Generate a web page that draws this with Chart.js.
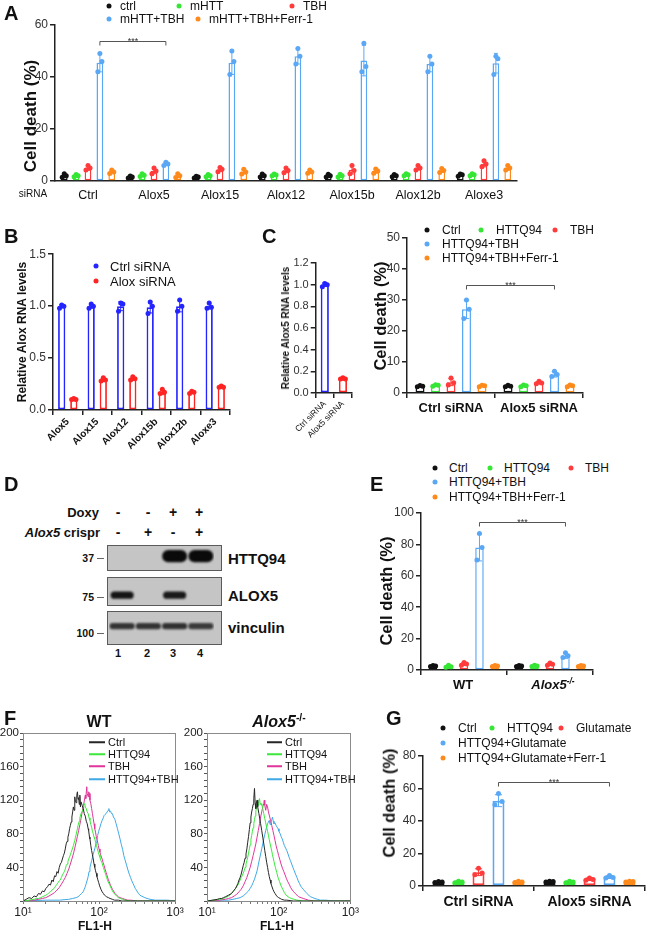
<!DOCTYPE html>
<html><head><meta charset="utf-8">
<script src="https://cdn.jsdelivr.net/npm/chart.js@4.4.1/dist/chart.umd.min.js"></script>
<style>
html,body{margin:0;padding:0;background:#fff}
body{width:650px;height:932px;position:relative;overflow:hidden;font-family:"Liberation Sans",Arial,Helvetica,sans-serif;color:#111}
canvas{position:absolute}
.t{position:absolute;white-space:nowrap;line-height:1}
.dot{position:absolute;width:5px;height:5px;border-radius:50%;transform:translate(-50%,-50%)}
.ln{position:absolute;height:1.5px;transform:translateY(-50%)}
.blot{position:absolute;background:#c5c5c5;border:1px solid #5a5a5a;box-sizing:border-box}
.tick{position:absolute;height:1px;background:#666}
sup{font-size:65%;vertical-align:0.55em;line-height:0}
</style></head><body>
<canvas id="cA"></canvas>
<canvas id="cB"></canvas>
<canvas id="cC1"></canvas>
<canvas id="cC2"></canvas>
<canvas id="cE"></canvas>
<canvas id="cG"></canvas>
<canvas id="cF1"></canvas>
<canvas id="cF2"></canvas>
<div class="blot" style="left:107px;top:545px;width:115px;height:26px"></div>
<div class="blot" style="left:107px;top:577px;width:115px;height:29px"></div>
<div class="blot" style="left:107px;top:611px;width:115px;height:34px"></div>
<canvas id="cD1"></canvas>
<canvas id="cD2"></canvas>
<canvas id="cD3"></canvas>
<script>
// ================= DATA =================
// Panel A
const A_GROUPS = ['Ctrl','Alox5','Alox15','Alox12','Alox15b','Alox12b','Aloxe3'];
const A_SERIES = ['ctrl','mHTT','TBH','mHTT+TBH','mHTT+TBH+Ferr-1'];
const A_CTRL = [2.0,1.5,1.5,2.1,2.0,2.0,2.3];
const A_CTRL_REPS = [[2.8,2.0,1.4],[1.9,1.5,1.2],[1.8,1.5,1.2],[2.7,2.0,1.5],[2.6,2.0,1.5],[2.5,2.0,1.6],[2.7,2.4,1.8]];
const A_MHTT = [2.0,2.2,2.0,2.3,2.0,2.4,2.4];
const A_MHTT_REPS = [[2.5,2.0,1.6],[2.8,2.2,1.7],[2.5,2.0,1.6],[2.7,2.3,2.0],[2.6,2.0,1.5],[2.8,2.4,2.0],[2.8,2.4,2.0]];
const A_TBH = [5.0,3.9,4.4,4.1,4.3,5.1,6.6];
const A_TBH_REPS = [[6.0,5.0,4.2],[5.0,3.8,2.8],[5.2,4.5,3.6],[5.0,4.0,3.2],[6.0,4.0,2.8],[6.0,5.0,4.2],[7.8,6.5,5.5]];
const A_MHTT_TBH = [45.5,6.6,45.5,48.0,46.3,45.0,45.3];
const A_MHTT_TBH_REPS = [[49,46,42],[7.2,6.5,6.0],[50,46,41],[51,48,45],[53,44,42],[48,45,42],[48,47,41]];
const A_FERR = [3.5,2.0,3.6,3.6,3.8,4.0,5.0];
const A_FERR_REPS = [[4.2,3.5,2.9],[2.8,2.0,1.3],[4.5,3.5,2.7],[4.2,3.5,3.0],[4.6,3.8,3.0],[4.8,4.0,3.3],[6.0,5.0,4.2]];

// Panel B
const B_GENES = ['Alox5','Alox15','Alox12','Alox15b','Alox12b','Aloxe3'];
const B_SERIES = ['Ctrl siRNA','Alox siRNA'];
const B_CTRL = [1.0,1.0,1.0,0.99,1.0,1.0];
const B_CTRL_REPS = [[1.01,1.0,0.98],[1.02,1.0,0.98],[1.03,1.02,0.95],[1.04,1.0,0.93],[1.06,1.0,0.95],[1.03,0.99,0.98]];
const B_ALOX = [0.10,0.29,0.30,0.17,0.17,0.22];
const B_ALOX_REPS = [[0.11,0.10,0.10],[0.31,0.29,0.28],[0.32,0.30,0.29],[0.20,0.17,0.16],[0.18,0.17,0.16],[0.23,0.22,0.22]];

// Panel C (left)
const C1_LABELS = ['Ctrl siRNA','Alox5 siRNA'];
const C1_VALUES = [1.0,0.13];
const C1_REPS = [[1.01,1.0,0.98],[0.14,0.13,0.13]];

// Panel C (right)
const C2_GROUPS = ['Ctrl siRNA','Alox5 siRNA'];
const C2_SERIES = ['Ctrl','HTTQ94','TBH','HTTQ94+TBH','HTTQ94+TBH+Ferr-1'];
const C2_CTRL = [2.2,2.2];       const C2_CTRL_REPS = [[2.4,2.2,2.0],[2.5,2.2,2.0]];
const C2_HTT = [2.5,2.3];        const C2_HTT_REPS = [[2.7,2.5,2.2],[2.6,2.3,2.0]];
const C2_TBH = [3.5,3.3];        const C2_TBH_REPS = [[4.8,3.3,2.6],[3.8,3.2,3.0]];
const C2_HTT_TBH = [27,6.0];     const C2_HTT_TBH_REPS = [[30,27,24],[7.0,6.0,5.3]];
const C2_FERR = [2.3,2.3];       const C2_FERR_REPS = [[2.5,2.3,2.0],[2.6,2.3,2.0]];

// Panel D (western blot)
const D_DOXY = ['-','-','+','+'];
const D_CRISPR = ['-','+','-','+'];
const D_LANES = ['1','2','3','4'];
const D_HTTQ94 = [0,0,1.0,1.0];
const D_ALOX5 = [0.95,0,0.92,0];
const D_VINCULIN = [0.78,0.78,0.8,0.74];
const D_PROTEINS = ['HTTQ94','ALOX5','vinculin'];
const D_MW = ['37','75','100'];

// Panel E
const E_GROUPS = ['WT','Alox5<sup>-/-</sup>'];
const E_SERIES = ['Ctrl','HTTQ94','TBH','HTTQ94+TBH','HTTQ94+TBH+Ferr-1'];
const E_CTRL = [2.5,2.5];      const E_CTRL_REPS = [[2.8,2.5,2.2],[2.8,2.5,2.2]];
const E_HTT = [2.3,2.6];       const E_HTT_REPS = [[3.0,2.0,1.8],[3.0,2.6,2.2]];
const E_TBH = [3.8,3.6];       const E_TBH_REPS = [[4.8,3.8,3.0],[4.5,3.6,3.0]];
const E_HTT_TBH = [78,9.0];    const E_HTT_TBH_REPS = [[87,78,70],[11,9,8]];
const E_FERR = [2.5,2.5];      const E_FERR_REPS = [[2.8,2.5,2.2],[2.8,2.5,2.2]];

// Panel F (flow histograms: [FL1-H, count])
const F_SERIES = ['Ctrl','HTTQ94','TBH','HTTQ94+TBH'];
const F_WT_CTRL = [[10,0],[11,2],[12,4],[13,3],[14,6],[15,5],[16,9],[17,8],[18,12],[19,11],[20,15],[21,17],[22,20],[23,19],[24,25],[25,23],[26,30],[27,29],[28,35],[29,33],[30,40],[31,44],[32,46],[33,50],[34,54],[35,57],[36,62],[37,68],[38,71],[39,76],[40,80],[41,86],[42,90],[43,94],[44,100],[45,106],[46,112],[47,108],[48,124],[49,118],[50,117],[51,126],[52,130],[53,121],[54,123],[55,115],[56,126],[57,112],[58,118],[60,114],[62,110],[64,104],[66,101],[68,95],[70,92],[72,86],[73,84],[75,76],[76,74],[78,66],[80,60],[82,55],[84,50],[86,44],[88,40],[90,36],[92,33],[94,29],[96,26],[99,22],[102,18],[106,14],[110,11],[114,9],[118,7],[122,6],[126,5],[133,4],[140,3],[150,2],[160,1],[180,1],[200,0],[1000,0]];
const F_WT_HTT = [[10,0],[12,1],[14,2],[15,3],[16,3],[17,4],[18,5],[19,6],[20,7],[21,8],[22,10],[23,11],[24,13],[25,14],[26,16],[27,18],[28,20],[29,22],[30,24],[31,25],[32,28],[33,31],[34,33],[35,35],[36,38],[37,42],[38,44],[39,47],[40,50],[42,55],[43,58],[45,63],[46,66],[48,72],[49,76],[50,79],[52,86],[53,90],[55,95],[56,99],[58,104],[60,106],[62,110],[63,114],[65,116],[66,112],[68,110],[70,106],[72,104],[74,99],[76,96],[78,91],[80,88],[82,83],[84,80],[86,76],[88,74],[90,70],[93,66],[95,62],[98,58],[100,55],[103,52],[106,48],[110,45],[114,40],[118,36],[122,32],[126,28],[130,24],[135,21],[140,18],[145,15],[150,12],[155,10],[162,8],[170,6],[180,4],[190,3],[205,2],[220,1],[260,0],[1000,0]];
const F_WT_TBH = [[10,0],[14,1],[16,2],[18,3],[20,4],[22,6],[24,8],[26,10],[28,13],[30,16],[32,20],[34,24],[36,28],[38,33],[40,38],[42,44],[44,50],[46,56],[48,63],[50,70],[52,77],[54,84],[56,91],[58,98],[60,106],[62,112],[64,119],[66,126],[67,122],[69,136],[70,128],[72,124],[73,130],[75,128],[76,120],[78,116],[80,110],[82,104],[84,98],[86,92],[88,86],[90,82],[92,77],[95,72],[98,66],[100,62],[103,58],[106,54],[110,50],[113,46],[117,42],[120,38],[124,34],[128,30],[132,26],[136,23],[140,20],[145,17],[150,14],[155,12],[162,9],[170,7],[180,5],[190,4],[205,3],[220,2],[240,1],[260,1],[320,0],[1000,0]];
const F_WT_HTT_TBH = [[10,0],[20,1],[30,1],[40,2],[45,3],[50,4],[53,5],[56,7],[59,9],[62,11],[64,14],[66,17],[68,21],[70,25],[72,29],[74,35],[76,40],[78,44],[80,48],[82,52],[84,56],[86,59],[89,64],[92,70],[94,73],[96,78],[99,83],[103,88],[106,92],[110,96],[114,99],[117,102],[120,103],[124,104],[128,106],[132,108],[135,110],[138,106],[142,107],[146,104],[150,104],[155,100],[162,97],[168,92],[175,86],[182,80],[189,74],[197,67],[205,61],[212,54],[220,49],[230,43],[240,37],[250,32],[260,28],[270,24],[280,21],[290,18],[300,15],[315,12],[330,9],[345,7],[360,6],[380,5],[400,4],[430,3],[470,2],[550,1],[650,1],[800,1],[1000,0]];
const F_KO_CTRL = [[10,0],[12,1],[14,2],[15,3],[16,3],[17,4],[18,5],[19,6],[20,7],[21,8],[22,9],[23,11],[24,13],[25,15],[26,18],[27,21],[28,25],[29,28],[30,32],[31,37],[32,42],[33,46],[34,51],[35,56],[36,62],[37,70],[38,77],[39,85],[40,93],[41,100],[42,106],[43,110],[44,115],[45,122],[46,134],[47,116],[48,110],[49,118],[50,120],[51,112],[53,104],[54,100],[56,92],[58,84],[60,76],[62,68],[64,60],[66,53],[68,46],[70,40],[72,34],[74,29],[76,25],[78,21],[80,18],[83,14],[86,11],[89,9],[92,7],[96,5],[100,4],[105,3],[110,2],[120,1],[130,1],[160,0],[1000,0]];
const F_KO_HTT = [[10,0],[12,1],[15,2],[17,3],[18,4],[19,5],[20,6],[21,7],[22,9],[23,11],[24,13],[25,15],[26,17],[27,19],[28,22],[29,25],[30,28],[31,30],[32,33],[33,36],[34,40],[35,44],[36,48],[37,52],[38,57],[39,62],[40,67],[41,73],[42,78],[43,83],[44,87],[45,92],[46,97],[47,101],[48,106],[49,112],[50,115],[51,118],[52,114],[53,120],[54,122],[55,117],[57,114],[58,116],[60,110],[62,104],[64,98],[66,93],[68,88],[70,83],[72,78],[74,73],[76,68],[79,62],[82,55],[86,47],[90,40],[94,34],[98,28],[103,23],[108,18],[114,14],[120,10],[127,7],[135,5],[142,4],[150,3],[165,2],[180,1],[220,0],[1000,0]];
const F_KO_TBH = [[10,0],[15,1],[18,2],[20,3],[22,4],[24,6],[26,8],[28,11],[30,14],[32,18],[34,23],[36,28],[38,34],[40,40],[42,47],[44,54],[46,61],[48,68],[50,76],[52,84],[54,92],[56,100],[58,106],[60,112],[62,116],[63,120],[64,114],[66,108],[68,115],[70,112],[72,106],[75,100],[77,96],[80,90],[83,84],[86,78],[89,72],[92,66],[96,60],[100,54],[104,49],[108,44],[113,39],[118,35],[123,31],[128,27],[134,23],[140,20],[147,16],[155,13],[162,11],[170,9],[180,7],[190,5],[205,4],[220,3],[240,2],[260,1],[320,0],[1000,0]];
const F_KO_HTT_TBH = [[10,0],[16,1],[20,1],[23,2],[26,3],[29,4],[32,6],[35,9],[38,12],[40,15],[42,18],[44,22],[46,26],[48,31],[50,36],[52,43],[54,50],[56,56],[58,62],[60,68],[62,74],[64,79],[66,84],[68,88],[70,92],[72,94],[74,96],[76,91],[78,94],[80,97],[82,100],[84,95],[86,92],[89,93],[92,90],[95,88],[98,86],[101,83],[105,80],[108,77],[112,74],[116,70],[120,66],[125,63],[130,60],[135,56],[140,52],[146,48],[152,44],[158,40],[165,36],[172,32],[180,28],[187,24],[195,21],[202,18],[210,16],[220,14],[230,12],[242,10],[255,8],[268,6],[280,5],[300,4],[320,3],[350,2],[380,1],[460,1],[600,0],[1000,0]];

// Panel G
const G_GROUPS = ['Ctrl siRNA','Alox5 siRNA'];
const G_SERIES = ['Ctrl','HTTQ94','Glutamate','HTTQ94+Glutamate','HTTQ94+Glutamate+Ferr-1'];
const G_CTRL = [2.5,2.8];      const G_CTRL_REPS = [[2.8,2.5,2.2],[3.0,2.8,2.5]];
const G_HTT = [2.5,2.5];       const G_HTT_REPS = [[3.0,2.5,2.0],[3.0,2.5,2.0]];
const G_GLU = [8.5,4.2];       const G_GLU_REPS = [[11,8,7],[5.0,4.0,3.5]];
const G_HTT_GLU = [52.5,5.5];  const G_HTT_GLU_REPS = [[57,52,50],[6.5,5.2,5.0]];
const G_FERR = [2.6,2.8];      const G_FERR_REPS = [[3.0,2.5,2.2],[3.0,2.8,2.5]];

// ================= STYLE =================
const FONT = '"Liberation Sans", Arial, Helvetica, sans-serif';
Chart.defaults.font.family = FONT;
const AX = '#222';
const C5 = ['#111111','#35e635','#ff3b3b','#5aa8f5','#ff8a1c'];
const BLUE = '#2424ff', RED = '#ff2424';
const FCOL = ['#262626','#3be83b','#e0359a','#3fa9e6'];

// ================= HELPERS =================
function txt(s, x, y, o = {}) {
  const d = document.createElement('div');
  d.className = 't';
  d.innerHTML = s;
  const a = o.a || 'l';
  const tx = a === 'l' ? '0' : a === 'c' ? '-50%' : '-100%';
  d.style.left = x + 'px'; d.style.top = y + 'px';
  d.style.fontSize = (o.size || 12) + 'px';
  if (o.bold) d.style.fontWeight = 'bold';
  if (o.italic) d.style.fontStyle = 'italic';
  if (o.color) d.style.color = o.color;
  d.style.transform = o.rot ? 'translate(-50%,-50%) rotate(-90deg)' : `translate(${tx},-50%)`;
  document.body.appendChild(d);
  return d;
}
function dot(x, y, c, s) {
  const d = document.createElement('div');
  d.className = 'dot'; d.style.left = x + 'px'; d.style.top = y + 'px'; d.style.background = c;
  if (s) { d.style.width = s + 'px'; d.style.height = s + 'px'; }
  document.body.appendChild(d);
}
function lineKey(x, y, w, c) {
  const d = document.createElement('div');
  d.className = 'ln'; d.style.left = x + 'px'; d.style.top = y + 'px'; d.style.width = w + 'px'; d.style.background = c;
  document.body.appendChild(d);
}
function legend(names, colors, slots, gap, size) {
  names.forEach((n, i) => { const [x, y] = slots[i]; dot(x, y, colors[i]); txt(n, x + gap, y, { size }); });
}
function place(id, b) {
  const cv = document.getElementById(id);
  cv.width = b.w; cv.height = b.h; cv.style.left = b.x + 'px'; cv.style.top = b.y + 'px';
  return cv;
}

const errDots = {
  id: 'errDots',
  afterDatasetsDraw(chart, args, o) {
    const ctx = chart.ctx, ys = chart.scales.y;
    chart.data.datasets.forEach((ds, i) => {
      if (!ds.reps) return;
      chart.getDatasetMeta(i).data.forEach((bar, j) => {
        const reps = ds.reps[j]; if (!reps) return;
        const col = Array.isArray(ds.borderColor) ? ds.borderColor[j] : ds.borderColor;
        const m = ds.data[j];
        const sd = Math.sqrt(reps.reduce((a, v) => a + (v - m) * (v - m), 0) / (reps.length - 1));
        const x = bar.x, yt = ys.getPixelForValue(m + sd), yb = ys.getPixelForValue(Math.max(0, m - sd));
        const cw = bar.width * 0.3;
        ctx.save();
        ctx.strokeStyle = col; ctx.lineWidth = 1;
        ctx.beginPath();
        ctx.moveTo(x, yt); ctx.lineTo(x, yb);
        ctx.moveTo(x - cw, yt); ctx.lineTo(x + cw, yt);
        ctx.moveTo(x - cw, yb); ctx.lineTo(x + cw, yb);
        ctx.stroke();
        ctx.fillStyle = col;
        const jit = [0, 0.3, -0.3];
        reps.forEach((v, k) => {
          ctx.beginPath();
          ctx.arc(x + jit[k % 3] * bar.width, ys.getPixelForValue(v), o.r || 2.5, 0, Math.PI * 2);
          ctx.fill();
        });
        ctx.restore();
      });
    });
  }
};
const bracket = {
  id: 'bracket',
  afterDatasetsDraw(chart, args, o) {
    if (!o || o.value === undefined) return;
    const a = chart.getDatasetMeta(o.from[0]).data[o.from[1]];
    const b = chart.getDatasetMeta(o.to[0]).data[o.to[1]];
    const y = Math.round(chart.scales.y.getPixelForValue(o.value)) + 0.5;
    const ctx = chart.ctx;
    ctx.save();
    ctx.strokeStyle = '#555'; ctx.lineWidth = 1;
    ctx.beginPath(); ctx.moveTo(a.x, y + 4); ctx.lineTo(a.x, y); ctx.lineTo(b.x, y); ctx.lineTo(b.x, y + 4); ctx.stroke();
    ctx.fillStyle = '#333'; ctx.font = '9px ' + FONT; ctx.textAlign = 'center'; ctx.textBaseline = 'alphabetic';
    ctx.fillText('***', (a.x + b.x) / 2, y + 2);
    ctx.restore();
  }
};

function barChart(id, box, area, cfg) {
  const cv = place(id, box);
  const yW = area.l - box.x, xH = box.y + box.h - area.b;
  return new Chart(cv, {
    type: 'bar',
    data: {
      labels: cfg.labels,
      datasets: cfg.datasets.map(d => ({
        label: d.label, data: d.data, reps: d.reps,
        backgroundColor: '#fff', borderColor: d.color, borderWidth: cfg.bw || 1.5,
        borderSkipped: false, barPercentage: cfg.barPct, categoryPercentage: cfg.catPct
      }))
    },
    options: {
      responsive: false, animation: false, devicePixelRatio: 1,
      layout: { padding: { left: 0, top: area.t - box.y, right: box.x + box.w - area.r, bottom: 0 } },
      plugins: { legend: { display: false }, tooltip: { enabled: false }, errDots: { r: cfg.r || 2.5 }, bracket: cfg.bracket || false },
      scales: {
        x: {
          offset: true,
          grid: { display: true, drawOnChartArea: false, drawTicks: cfg.xTicks !== false, tickLength: 5, color: AX, lineWidth: 1.5 },
          border: { color: AX, width: 1.5 },
          ticks: { display: cfg.xLabels !== false, color: '#111', font: cfg.xFont || { size: 12 }, padding: cfg.xPad || 2,
                   minRotation: cfg.rot || 0, maxRotation: cfg.rot || 0, autoSkip: false },
          afterFit: s => { s.height = xH; }
        },
        y: {
          min: 0, max: cfg.ymax,
          ticks: { stepSize: cfg.step, color: '#333', font: cfg.yFont || { size: 12 }, padding: 2, callback: cfg.yCb || (v => v) },
          grid: { display: true, drawOnChartArea: false, tickLength: 5, color: AX, lineWidth: 1.5 },
          border: { color: AX, width: 1.5 },
          afterFit: s => { s.width = yW; }
        }
      }
    },
    plugins: [errDots, bracket]
  });
}

const blur = {
  id: 'blur',
  beforeDatasetsDraw(chart) { chart.ctx.save(); chart.ctx.filter = 'blur(1.3px)'; },
  afterDatasetsDraw(chart) { chart.ctx.restore(); }
};
function blotChart(id, box, intens, band) {
  const cv = place(id, box);
  return new Chart(cv, {
    type: 'bar',
    data: { labels: D_LANES, datasets: [{
      data: intens.map(v => v > 0 ? [band.lo, band.hi] : null),
      backgroundColor: intens.map(v => `rgba(10,10,10,${v})`),
      borderWidth: 0, borderRadius: band.rad, borderSkipped: false,
      barPercentage: band.w, categoryPercentage: 1
    }] },
    options: {
      responsive: false, animation: false, devicePixelRatio: 1,
      layout: { padding: { left: 2, right: 8, top: 0, bottom: 0 } },
      plugins: { legend: { display: false }, tooltip: { enabled: false } },
      scales: { x: { display: false }, y: { display: false, min: -1, max: 1 } }
    },
    plugins: [blur]
  });
}

const frame = {
  id: 'frame',
  afterDraw(chart) {
    const a = chart.chartArea, ctx = chart.ctx;
    ctx.save(); ctx.strokeStyle = '#8a8a8a'; ctx.lineWidth = 1;
    ctx.strokeRect(Math.round(a.left) + 0.5, Math.round(a.top) + 0.5, Math.round(a.right - a.left), Math.round(a.bottom - a.top));
    ctx.restore();
  }
};
const SUP = { 1: '¹', 2: '²', 3: '³' };
function flowChart(id, box, area, curves) {
  const cv = place(id, box);
  const yW = area.l - box.x, xH = box.y + box.h - area.b;
  return new Chart(cv, {
    type: 'line',
    data: { datasets: curves.map((c, i) => ({
      label: F_SERIES[i], data: c.map(p => ({ x: p[0], y: p[1] })),
      borderColor: FCOL[i], borderWidth: 1, pointRadius: 0, tension: 0, fill: false
    })) },
    options: {
      responsive: false, animation: false, devicePixelRatio: 1,
      layout: { padding: { left: 0, top: area.t - box.y, right: box.x + box.w - area.r, bottom: 0 } },
      plugins: { legend: { display: false }, tooltip: { enabled: false } },
      scales: {
        x: {
          type: 'logarithmic', min: 10, max: 1000,
          ticks: { autoSkip: false, maxRotation: 0, color: '#222', font: { size: 12 }, padding: 1,
                   callback: v => { const l = Math.log10(v); return Math.abs(l - Math.round(l)) < 1e-6 ? '10' + SUP[Math.round(l)] : ''; } },
          grid: { drawOnChartArea: false, tickLength: 3, color: '#777' },
          border: { color: '#777' },
          afterFit: s => { s.height = xH; }
        },
        y: {
          min: 0, max: 200,
          ticks: { stepSize: 8, autoSkip: false, color: '#222', font: { size: 11.5 }, padding: 1,
                   callback: v => (v > 0 && v % 40 === 0) ? String(v) : '' },
          grid: { drawOnChartArea: false, tickLength: 3, color: '#555' },
          border: { color: '#333', width: 1 },
          afterFit: s => { s.width = yW; }
        }
      }
    },
    plugins: [frame]
  });
}

// ================= PANEL A =================
txt('A', 4, 13, { size: 20, bold: true });
legend(A_SERIES, C5, [[109, 6], [179, 6], [292, 6], [109, 19], [198, 19]], 11, 12);
txt('Cell death (%)', 30, 116, { size: 17, bold: true, rot: true });
txt('siRNA', 33, 194, { size: 10, a: 'c' });
barChart('cA', { x: 0, y: 10, w: 530, h: 200 }, { l: 55, r: 517, t: 25, b: 181 }, {
  labels: A_GROUPS,
  datasets: [
    { label: A_SERIES[0], data: A_CTRL, reps: A_CTRL_REPS, color: C5[0] },
    { label: A_SERIES[1], data: A_MHTT, reps: A_MHTT_REPS, color: C5[1] },
    { label: A_SERIES[2], data: A_TBH, reps: A_TBH_REPS, color: C5[2] },
    { label: A_SERIES[3], data: A_MHTT_TBH, reps: A_MHTT_TBH_REPS, color: C5[3] },
    { label: A_SERIES[4], data: A_FERR, reps: A_FERR_REPS, color: C5[4] }
  ],
  ymax: 60, step: 20, barPct: 0.57, catPct: 0.9, xTicks: false, xFont: { size: 12.5 }, xPad: 7,
  bracket: { from: [3, 0], to: [3, 1], value: 54 }
});

// ================= PANEL B =================
txt('B', 4, 236, { size: 20, bold: true });
legend(B_SERIES, [BLUE, RED], [[96, 266], [96, 281]], 14, 13);
txt('Relative Alox RNA levels', 22, 332, { size: 12, bold: true, rot: true });
barChart('cB', { x: 0, y: 245, w: 240, h: 215 }, { l: 53, r: 230, t: 254, b: 410 }, {
  labels: B_GENES,
  datasets: [
    { label: B_SERIES[0], data: B_CTRL, reps: B_CTRL_REPS, color: BLUE },
    { label: B_SERIES[1], data: B_ALOX, reps: B_ALOX_REPS, color: RED }
  ],
  ymax: 1.5, step: 0.5, yCb: v => v.toFixed(1), barPct: 0.6, catPct: 0.82, rot: 45,
  xFont: { size: 10, weight: 'bold' }, xPad: 1, bw: 1.8
});

// ================= PANEL C =================
txt('C', 262, 236, { size: 20, bold: true });
txt('Relative Alox5 RNA levels', 286, 328, { size: 10, bold: true, rot: true });
barChart('cC1', { x: 290, y: 250, w: 68, h: 200 }, { l: 313, r: 352, t: 263, b: 393 }, {
  labels: C1_LABELS,
  datasets: [{ label: 'Alox5', data: C1_VALUES, reps: C1_REPS, color: [BLUE, RED] }],
  ymax: 1.2, step: 0.2, yCb: v => v.toFixed(1), yFont: { size: 11 }, barPct: 0.5, catPct: 0.9, rot: 45,
  xFont: { size: 8.5 }, xPad: 1, bw: 1.8
});
legend(C2_SERIES, C5, [[427, 230], [481, 230], [555, 230], [427, 244], [427, 258]], 15, 12);
txt('Cell death (%)', 380, 316, { size: 16.5, bold: true, rot: true });
barChart('cC2', { x: 360, y: 225, w: 240, h: 200 }, { l: 407, r: 583, t: 238, b: 393 }, {
  labels: C2_GROUPS,
  datasets: [
    { label: C2_SERIES[0], data: C2_CTRL, reps: C2_CTRL_REPS, color: C5[0] },
    { label: C2_SERIES[1], data: C2_HTT, reps: C2_HTT_REPS, color: C5[1] },
    { label: C2_SERIES[2], data: C2_TBH, reps: C2_TBH_REPS, color: C5[2] },
    { label: C2_SERIES[3], data: C2_HTT_TBH, reps: C2_HTT_TBH_REPS, color: C5[3] },
    { label: C2_SERIES[4], data: C2_FERR, reps: C2_FERR_REPS, color: C5[4] }
  ],
  ymax: 50, step: 10, barPct: 0.58, catPct: 0.88, xFont: { size: 13, weight: 'bold' }, xPad: 3,
  bracket: { from: [3, 0], to: [3, 1], value: 35 }
});

// ================= PANEL D =================
txt('D', 4, 484, { size: 20, bold: true });
txt('Doxy', 99, 512, { size: 13, bold: true, a: 'r' });
txt('<i>Alox5</i> crispr', 100, 532, { size: 13, bold: true, a: 'r' });
const D_SIGN_X = [118, 148, 173, 199];
D_DOXY.forEach((s, i) => txt(s, D_SIGN_X[i], 512, { size: 14, bold: true, a: 'c' }));
D_CRISPR.forEach((s, i) => txt(s, D_SIGN_X[i], 532, { size: 14, bold: true, a: 'c' }));
const D_NUM_X = [118, 147, 173, 200];
D_LANES.forEach((s, i) => txt(s, D_NUM_X[i], 653, { size: 11, bold: true, a: 'c' }));
const D_ROW_Y = [558, 595, 627];
const D_MW_Y = [558, 597, 633];
D_PROTEINS.forEach((p, i) => txt(p, 228, D_ROW_Y[i], { size: 15, bold: true }));
D_MW.forEach((m, i) => {
  txt(m, 94, D_MW_Y[i], { size: 10.5, bold: true, a: 'r' });
  const t = document.createElement('div'); t.className = 'tick';
  t.style.left = '97px'; t.style.top = D_MW_Y[i] + 'px'; t.style.width = '7px';
  document.body.appendChild(t);
});
blotChart('cD1', { x: 107, y: 545, w: 115, h: 26 }, D_HTTQ94, { lo: -0.32, hi: 0.62, w: 0.95, rad: 6 });
blotChart('cD2', { x: 107, y: 577, w: 115, h: 29 }, D_ALOX5, { lo: -0.5, hi: 0.0, w: 0.88, rad: 4 });
blotChart('cD3', { x: 107, y: 611, w: 115, h: 34 }, D_VINCULIN, { lo: -0.07, hi: 0.3, w: 0.96, rad: 3 });

// ================= PANEL E =================
txt('E', 370, 484, { size: 20, bold: true });
legend(E_SERIES, C5, [[435, 468], [490, 468], [571, 468], [435, 482], [435, 497]], 14, 12);
txt('Cell death (%)', 386, 591, { size: 16.5, bold: true, rot: true });
txt(E_GROUPS[0], 463, 684, { size: 13, bold: true, a: 'c' });
txt(E_GROUPS[1], 553, 684, { size: 13, bold: true, italic: true, a: 'c' });
barChart('cE', { x: 370, y: 500, w: 240, h: 195 }, { l: 421, r: 593, t: 513, b: 670 }, {
  labels: E_GROUPS,
  datasets: [
    { label: E_SERIES[0], data: E_CTRL, reps: E_CTRL_REPS, color: C5[0] },
    { label: E_SERIES[1], data: E_HTT, reps: E_HTT_REPS, color: C5[1] },
    { label: E_SERIES[2], data: E_TBH, reps: E_TBH_REPS, color: C5[2] },
    { label: E_SERIES[3], data: E_HTT_TBH, reps: E_HTT_TBH_REPS, color: C5[3] },
    { label: E_SERIES[4], data: E_FERR, reps: E_FERR_REPS, color: C5[4] }
  ],
  ymax: 100, step: 20, barPct: 0.55, catPct: 0.9, xLabels: false,
  bracket: { from: [3, 0], to: [3, 1], value: 94 }
});

// ================= PANEL F =================
txt('F', 4, 718, { size: 20, bold: true });
txt('WT', 99, 722, { size: 16, bold: true, a: 'c' });
txt('<i>Alox5</i><sup>-/-</sup>', 279, 722, { size: 16, bold: true, a: 'c' });
const F_KEY_Y = [742, 754, 766, 779];
F_SERIES.forEach((n, i) => {
  lineKey(89, F_KEY_Y[i], 16, FCOL[i]); txt(n, 108, F_KEY_Y[i], { size: 11 });
  lineKey(267, F_KEY_Y[i], 15, FCOL[i]); txt(n, 285, F_KEY_Y[i], { size: 11 });
});
txt('FL1-H', 95, 926, { size: 12, bold: true, a: 'c' });
txt('FL1-H', 277, 926, { size: 12, bold: true, a: 'c' });
flowChart('cF1', { x: 0, y: 725, w: 185, h: 195 }, { l: 23, r: 175, t: 733, b: 901 },
  [F_WT_CTRL, F_WT_HTT, F_WT_TBH, F_WT_HTT_TBH]);
flowChart('cF2', { x: 180, y: 725, w: 180, h: 195 }, { l: 207, r: 352, t: 733, b: 901 },
  [F_KO_CTRL, F_KO_HTT, F_KO_TBH, F_KO_HTT_TBH]);

// ================= PANEL G =================
txt('G', 386, 718, { size: 20, bold: true });
legend(G_SERIES, C5, [[443, 728], [492, 728], [561, 728], [443, 743], [443, 758]], 15, 12);
txt('Cell death (%)', 389, 803, { size: 16.5, bold: true, rot: true });
barChart('cG', { x: 370, y: 745, w: 280, h: 187 }, { l: 423, r: 645, t: 756, b: 886 }, {
  labels: G_GROUPS,
  datasets: [
    { label: G_SERIES[0], data: G_CTRL, reps: G_CTRL_REPS, color: C5[0] },
    { label: G_SERIES[1], data: G_HTT, reps: G_HTT_REPS, color: C5[1] },
    { label: G_SERIES[2], data: G_GLU, reps: G_GLU_REPS, color: C5[2] },
    { label: G_SERIES[3], data: G_HTT_GLU, reps: G_HTT_GLU_REPS, color: C5[3] },
    { label: G_SERIES[4], data: G_FERR, reps: G_FERR_REPS, color: C5[4] }
  ],
  ymax: 80, step: 20, barPct: 0.6, catPct: 0.9, xFont: { size: 14, weight: 'bold' }, xPad: 3, bw: 2,
  bracket: { from: [3, 0], to: [3, 1], value: 64 }
});
</script>
</body></html>
